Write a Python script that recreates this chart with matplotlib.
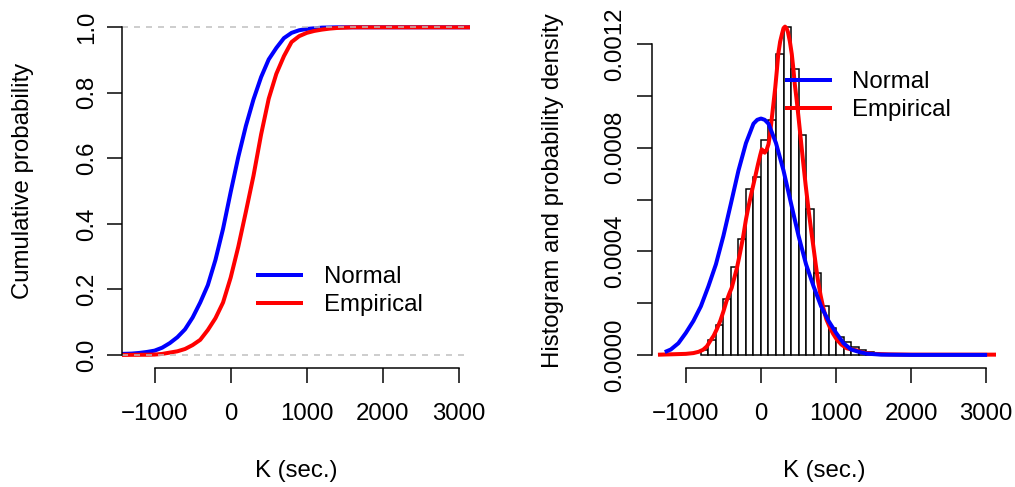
import numpy as np
import matplotlib
matplotlib.use("Agg")
import matplotlib.pyplot as plt
from matplotlib.ticker import MultipleLocator

plt.rcParams["font.family"] = ["Liberation Sans", "DejaVu Sans"]
plt.rcParams["font.size"] = 12

# ---- data ----
# left: cumulative curves
ecdf_k = [-1430, -1100, -1000, -900, -800, -700, -600, -500, -400, -300, -200,
          -100, 0, 100, 200, 300, 400, 500, 600, 700, 800, 900, 1000, 1100,
          1200, 1300, 1400, 1600, 3150]
ecdf_p = [0.0, 0.0005, 0.001, 0.003, 0.007, 0.011, 0.018, 0.030, 0.046, 0.076,
          0.112, 0.160, 0.236, 0.330, 0.437, 0.547, 0.673, 0.782, 0.858,
          0.912, 0.955, 0.973, 0.983, 0.989, 0.993, 0.996, 0.998, 1.0, 1.0]

ncdf_k = [-1430, -1300, -1200, -1100, -1000, -900, -800, -700, -600, -500,
          -400, -300, -200, -100, 0, 100, 200, 300, 400, 500, 600, 700, 800,
          900, 1000, 1100, 1200, 1400, 3150]
ncdf_p = [0.003, 0.004, 0.006, 0.009, 0.013, 0.022, 0.036, 0.054, 0.078,
          0.114, 0.160, 0.213, 0.290, 0.385, 0.497, 0.604, 0.699, 0.780,
          0.848, 0.902, 0.937, 0.967, 0.983, 0.991, 0.995, 0.997, 0.999,
          1.0, 1.0]

# right: histogram (bin width 100) and densities
hist_left = list(range(-800, 1600, 100))
hist_dens = [0.00002, 0.000059, 0.000114, 0.000215, 0.000341, 0.000446,
             0.000639, 0.000688, 0.00083, 0.000909, 0.001164, 0.001267,
             0.001106, 0.000851, 0.000562, 0.000318, 0.000188, 0.000104,
             0.000068, 0.000048, 0.00003, 0.00002, 0.00001, 0.000005]

dens_k = [-1345, -1000, -900, -830, -770, -720, -680, -630, -590, -540, -500,
          -460, -420, -390, -360, -320, -280, -240, -200, -170, -130, -100,
          -70, -40, -10, 10, 30, 50, 75, 100, 120, 140, 165, 190, 210, 230,
          255, 280, 300, 320, 340, 360, 385, 410, 430, 450, 475, 500, 530,
          560, 595, 630, 665, 700, 730, 760, 795, 830, 870, 920, 960, 1010,
          1070, 1140, 1190, 1230, 1280, 1320, 1400, 1500, 1700, 2000, 2500,
          3120]
dens_v = [0.000001, 0.000004, 0.000007, 0.000012, 0.00002, 0.000033,
          0.000052, 0.000074, 0.000098, 0.000133, 0.000168, 0.000207,
          0.000238, 0.000259, 0.000292, 0.000336, 0.000392, 0.000452,
          0.000523, 0.000568, 0.000621, 0.000659, 0.000697, 0.000736,
          0.000772, 0.000794, 0.000788, 0.000781, 0.000792, 0.000814,
          0.000852, 0.000904, 0.000968, 0.001033, 0.001095, 0.001162,
          0.001210, 0.00124, 0.001262, 0.001268, 0.001262, 0.001246,
          0.001210, 0.001162, 0.001108, 0.001046, 0.000985, 0.000917,
          0.000833, 0.000749, 0.000655, 0.000568, 0.000488, 0.000413,
          0.000347, 0.000285, 0.000228, 0.000181, 0.000138, 0.000104,
          0.000082, 0.000059, 0.00004, 0.000026, 0.000022, 0.00002,
          0.000017, 0.000012, 0.000007, 0.000004, 0.000002, 0.000001,
          0.000001, 0.000001]

npdf_k = [-1256, -1200, -1100, -1000, -900, -800, -700, -600, -500, -400,
          -300, -200, -100, -50, 0, 50, 100, 200, 300, 400, 500, 600, 700,
          800, 900, 1000, 1100, 1200, 1300, 1400, 1600, 2000, 2984]
npdf_v = [0.000014, 0.000021, 0.000045, 0.000085, 0.000131, 0.000188,
          0.000265, 0.00035, 0.00046, 0.000585, 0.000712, 0.000818, 0.000893,
          0.000908, 0.000913, 0.000908, 0.000893, 0.000818, 0.000712,
          0.000585, 0.00046, 0.00035, 0.000265, 0.000188, 0.000131,
          0.000085, 0.000045, 0.000021, 0.000012, 0.000005, 0.000001, 0.0,
          0.0]

x_ticks = [-1000, 0, 1000, 2000, 3000]
blue = "#0000FF"
red = "#FF0000"

W, H = 1015, 487
fig = plt.figure(figsize=(W / 144, H / 144), dpi=144)


def r_axes(ax, xt, yt, ypad):
    # R style: no box, axis lines only between first and last tick
    for s in ["top", "right"]:
        ax.spines[s].set_visible(False)
    ax.spines["left"].set_bounds(yt[0], yt[-1])
    ax.spines["bottom"].set_bounds(xt[0], xt[-1])
    for s in ["left", "bottom"]:
        ax.spines[s].set_linewidth(0.75)
    ax.set_xticks(xt)
    ax.tick_params(direction="out", length=7.5, width=0.75, labelsize=12)
    ax.tick_params(axis="x", pad=10)
    ax.tick_params(axis="y", which="both", direction="out", length=7.5,
                   width=0.75, pad=ypad)
    for lab in ax.get_yticklabels():
        lab.set_rotation(90)
        lab.set_va("center")


# ---- left: cumulative ----
ax1 = fig.add_axes([122 / W, (H - 368) / H, 348 / W, 353.8 / H])
ax1.plot(ncdf_k, ncdf_p, color=blue, lw=2, label="Normal")
ax1.plot(ecdf_k, ecdf_p, color=red, lw=2, label="Empirical")
ax1.axhline(0, color="#BEBEBE", lw=0.75, ls=(0, (4, 4)))
ax1.axhline(1, color="#BEBEBE", lw=0.75, ls=(0, (4, 4)))
ax1.set_xlim(-1428, 3145)
ax1.set_ylim(-0.04, 1.04)
ax1.set_yticks([0, 0.2, 0.4, 0.6, 0.8, 1.0])
ax1.set_yticklabels(["0.0", "0.2", "0.4", "0.6", "0.8", "1.0"])
r_axes(ax1, x_ticks, [0, 1.0], 4.2)
ax1.set_xlabel("K (sec.)", va="center")
ax1.xaxis.set_label_coords(0.5, (368 - 471) / 353.8)
ax1.set_ylabel("Cumulative probability", va="center")
ax1.yaxis.set_label_coords((23 - 122) / 348, (368 - 181) / 353.8)
ax1.legend(loc="center left", bbox_to_anchor=(258 / W, (H - 291) / H),
           bbox_transform=fig.transFigure, frameon=False, borderpad=0,
           borderaxespad=0, handlelength=1.81, handletextpad=0.93,
           labelspacing=0.25, fontsize=12)

# ---- right: histogram + densities ----
ax2 = fig.add_axes([651.7 / W, (H - 368) / H, 344.6 / W, 353.8 / H])
ax2.bar(hist_left, hist_dens, width=100, align="edge", facecolor="white",
        edgecolor="black", linewidth=0.75)
ax2.plot(dens_k, dens_v, color=red, lw=2, label="Empirical")
ax2.plot(npdf_k, npdf_v, color=blue, lw=2, label="Normal")
ax2.set_xlim(-1455, 3133)
ax2.set_ylim(-0.0000506, 0.001316)
ax2.yaxis.set_major_locator(MultipleLocator(0.0004))
ax2.yaxis.set_minor_locator(MultipleLocator(0.0002))
ax2.set_yticks([0, 0.0004, 0.0008, 0.0012])
ax2.set_yticklabels(["0.0000", "0.0004", "0.0008", "0.0012"])
r_axes(ax2, x_ticks, [0, 0.0012], 5.5)
ax2.set_xlabel("K (sec.)", va="center")
ax2.xaxis.set_label_coords(0.5, (368 - 471) / 353.8)
ax2.set_ylabel("Histogram and probability density", va="center")
ax2.yaxis.set_label_coords((553 - 651.7) / 344.6, 0.5)
handles, labels = ax2.get_legend_handles_labels()
ax2.legend(handles[::-1], labels[::-1], loc="center left",
           bbox_to_anchor=(786.7 / W, (H - 96.3) / H),
           bbox_transform=fig.transFigure, frameon=False, borderpad=0,
           borderaxespad=0, handlelength=1.81, handletextpad=0.93,
           labelspacing=0.25, fontsize=12)

fig.savefig("out.png", dpi=144)
